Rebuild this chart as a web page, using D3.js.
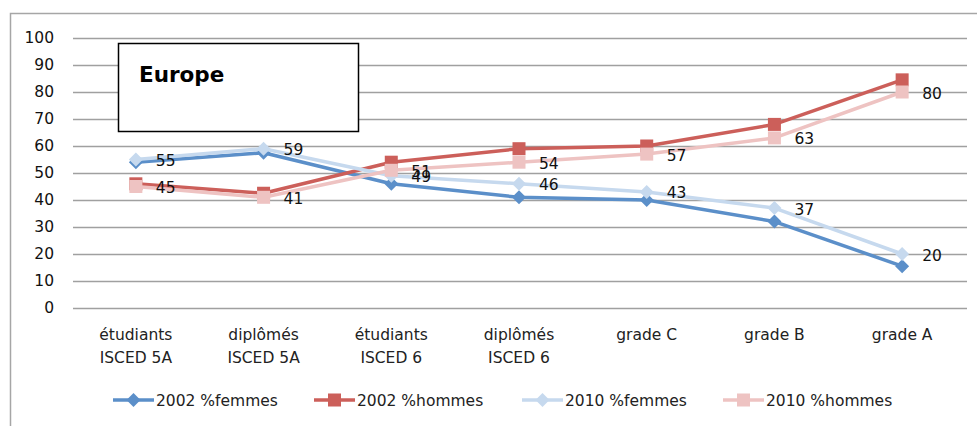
<!DOCTYPE html>
<html>
<head>
<meta charset="utf-8">
<script src="https://cdn.jsdelivr.net/npm/d3@7"></script>
<style>
  body { margin: 0; background: #fff; }
  svg { display: block; font-family: "DejaVu Sans", sans-serif; }
</style>
</head>
<body>
<svg id="chart" width="977" height="426"></svg>
<script>
const categories = [
  ['étudiants', 'ISCED 5A'],
  ['diplômés', 'ISCED 5A'],
  ['étudiants', 'ISCED 6'],
  ['diplômés', 'ISCED 6'],
  ['grade C'],
  ['grade B'],
  ['grade A'],
];
const femmes2002 = [54, 57.5, 46, 41, 40, 32, 15.5];
const hommes2002 = [46, 42.5, 54, 59, 60, 68, 84.5];
const femmes2010 = [55, 59, 49, 46, 43, 37, 20];
const hommes2010 = [45, 41, 51, 54, 57, 63, 80];
const yTicks = [0, 10, 20, 30, 40, 50, 60, 70, 80, 90, 100];

const series = [
  { name: '2002 %femmes', values: femmes2002, color: '#5b8fc9', marker: 'diamond', labels: false },
  { name: '2002 %hommes', values: hommes2002, color: '#cc5f5a', marker: 'square', labels: false },
  { name: '2010 %femmes', values: femmes2010, color: '#c6d9ee', marker: 'diamond', labels: true },
  { name: '2010 %hommes', values: hommes2010, color: '#eec3c2', marker: 'square', labels: true },
];

const fontSize = 15.5;
const svg = d3.select('#chart');
const margin = { left: 73, right: 10, top: 38, bottom: 118 };
const width = 967 - margin.left;
const height = 308 - margin.top;

// frame
svg.append('path')
  .attr('d', 'M10.5,426 V13.5 H977')
  .attr('fill', 'none')
  .attr('stroke', '#a6a6a6')
  .attr('stroke-width', 1.5);

const g = svg.append('g').attr('transform', `translate(${margin.left},${margin.top})`);

const x = d3.scaleBand().domain(d3.range(categories.length)).range([0, width]);
const y = d3.scaleLinear().domain([0, 100]).range([height, 0]);
const cx = (i) => x(i) + x.bandwidth() / 2 - 1;

// gridlines
g.append('g')
  .selectAll('line')
  .data(yTicks)
  .join('line')
  .attr('x1', 0)
  .attr('x2', width)
  .attr('y1', (d) => Math.round(y(d)) + 0.5)
  .attr('y2', (d) => Math.round(y(d)) + 0.5)
  .attr('stroke', '#a0a0a0')
  .attr('stroke-width', 1.3);

// y axis labels
const yAxis = d3.axisLeft(y).tickValues(yTicks).tickSize(0).tickPadding(19);
g.append('g')
  .call(yAxis)
  .call((a) => a.select('.domain').remove())
  .selectAll('text')
  .attr('font-size', fontSize)
  .attr('font-family', '"DejaVu Sans", sans-serif')
  .attr('fill', '#111');

// x axis labels
const xLabels = g.append('g').attr('transform', `translate(0,${height})`);
categories.forEach((lines, i) => {
  const t = xLabels.append('text')
    .attr('x', cx(i))
    .attr('y', 32)
    .attr('text-anchor', 'middle')
    .attr('font-size', fontSize)
    .attr('fill', '#222');
  lines.forEach((l, j) => {
    t.append('tspan').attr('x', cx(i)).attr('dy', j === 0 ? 0 : 22.5).text(l);
  });
});

// title box
svg.append('rect')
  .attr('x', 118.5).attr('y', 43.5)
  .attr('width', 240).attr('height', 88)
  .attr('fill', '#fff')
  .attr('stroke', '#000')
  .attr('stroke-width', 1.5);
svg.append('text')
  .attr('x', 139).attr('y', 82)
  .attr('font-size', 21.5)
  .attr('font-weight', 'bold')
  .attr('fill', '#000')
  .text('Europe');

const line = d3.line().x((d, i) => cx(i)).y((d) => y(d));
const diamond = (s) => `M0,${-s} L${s},0 L0,${s} L${-s},0 Z`;

function drawMarker(sel, type, color) {
  if (type === 'diamond') {
    sel.append('path').attr('d', diamond(7)).attr('fill', color);
  } else {
    sel.append('rect').attr('x', -6.5).attr('y', -6.5).attr('width', 13).attr('height', 13).attr('fill', color);
  }
}

series.forEach((s) => {
  const sg = g.append('g');
  sg.append('path')
    .attr('d', line(s.values))
    .attr('fill', 'none')
    .attr('stroke', s.color)
    .attr('stroke-width', 3.5)
    .attr('stroke-linejoin', 'round');
  s.values.forEach((v, i) => {
    const m = sg.append('g').attr('transform', `translate(${cx(i)},${y(v)})`);
    drawMarker(m, s.marker, s.color);
  });
});

// data labels for 2010 series
series.filter((s) => s.labels).forEach((s) => {
  g.append('g')
    .selectAll('text')
    .data(s.values)
    .join('text')
    .attr('x', (d, i) => cx(i) + 20)
    .attr('y', (d) => y(d) + 6.5)
    .attr('font-size', fontSize)
    .attr('fill', '#111')
    .text((d) => d);
});

// legend
const legendX = [113, 314, 522, 723];
const legend = svg.append('g').attr('transform', 'translate(0,400)');
series.forEach((s, i) => {
  const lg = legend.append('g').attr('transform', `translate(${legendX[i]},0)`);
  lg.append('line')
    .attr('x1', 0).attr('x2', 41)
    .attr('stroke', s.color)
    .attr('stroke-width', 3.5);
  const m = lg.append('g').attr('transform', 'translate(20.5,0)');
  drawMarker(m, s.marker, s.color);
  lg.append('text')
    .attr('x', 43)
    .attr('y', 5.5)
    .attr('font-size', fontSize)
    .attr('fill', '#222')
    .text(s.name);
});
</script>
</body>
</html>
